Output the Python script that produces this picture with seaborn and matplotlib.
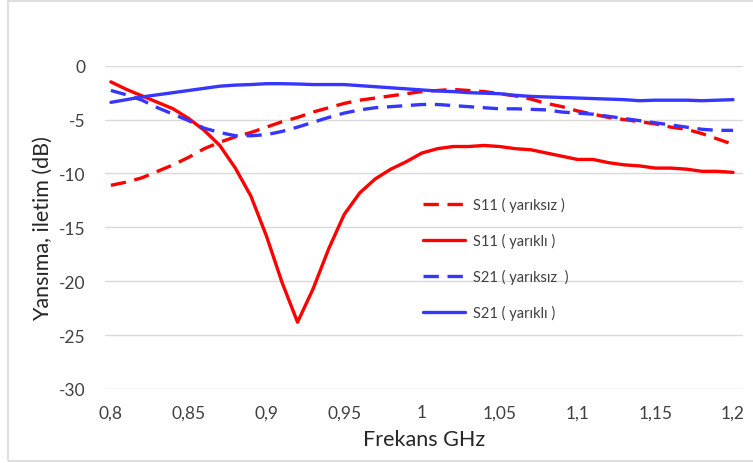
import numpy as np
import pandas as pd
import matplotlib
matplotlib.use("Agg")
import matplotlib.pyplot as plt
import seaborn as sns
from matplotlib.patches import Rectangle
from matplotlib.ticker import FuncFormatter

# Frekans noktalari (GHz)
freq = [0.80, 0.81, 0.82, 0.83, 0.84, 0.85, 0.86, 0.87, 0.88, 0.89,
        0.90, 0.91, 0.92, 0.93, 0.94, 0.95, 0.96, 0.97, 0.98, 0.99,
        1.00, 1.01, 1.02, 1.03, 1.04, 1.05, 1.06, 1.07, 1.08, 1.09,
        1.10, 1.11, 1.12, 1.13, 1.14, 1.15, 1.16, 1.17, 1.18, 1.19, 1.20]

s11_yariksiz = [-11.1, -10.8, -10.4, -9.8, -9.2, -8.5, -7.7, -7.1, -6.6, -6.2,
                -5.7, -5.2, -4.8, -4.3, -3.9, -3.5, -3.2, -3.0, -2.8, -2.6,
                -2.4, -2.3, -2.2, -2.3, -2.4, -2.6, -2.8, -3.1, -3.5, -3.8,
                -4.2, -4.5, -4.8, -5.0, -5.2, -5.4, -5.7, -5.9, -6.3, -6.8, -7.3]

s11_yarikli = [-1.5, -2.2, -2.8, -3.4, -4.0, -4.9, -6.0, -7.4, -9.5, -12.1,
               -15.8, -20.1, -23.8, -20.7, -17.0, -13.8, -11.8, -10.5, -9.6, -8.9,
               -8.1, -7.7, -7.5, -7.5, -7.4, -7.5, -7.7, -7.8, -8.1, -8.4,
               -8.7, -8.7, -9.0, -9.2, -9.3, -9.5, -9.5, -9.6, -9.8, -9.8, -9.9]

s21_yariksiz = [-2.3, -2.7, -3.2, -3.9, -4.5, -5.1, -5.8, -6.2, -6.5, -6.5,
                -6.4, -6.1, -5.7, -5.25, -4.8, -4.4, -4.1, -3.9, -3.8, -3.7,
                -3.6, -3.6, -3.7, -3.8, -3.9, -4.0, -4.0, -4.05, -4.1, -4.3,
                -4.4, -4.5, -4.7, -4.9, -5.1, -5.3, -5.5, -5.7, -5.9, -6.0, -6.0]

s21_yarikli = [-3.4, -3.15, -2.9, -2.7, -2.5, -2.3, -2.1, -1.9, -1.8, -1.75,
               -1.67, -1.67, -1.7, -1.75, -1.75, -1.75, -1.85, -1.95, -2.05, -2.15,
               -2.25, -2.35, -2.4, -2.5, -2.55, -2.6, -2.75, -2.85, -2.9, -2.95,
               -3.0, -3.05, -3.1, -3.15, -3.25, -3.2, -3.2, -3.2, -3.25, -3.2, -3.15]

labels = ["S11 ( yarıksız )", "S11 ( yarıklı )", "S21 ( yarıksız  )", "S21 ( yarıklı )"]
x_ticks = [0.8, 0.85, 0.9, 0.95, 1.0, 1.05, 1.1, 1.15, 1.2]
y_ticks = [0, -5, -10, -15, -20, -25, -30]

RED = "#ff0000"
BLUE = "#3636ff"
DASH = (0, (4.6, 2.6))

sns.set_theme(style="whitegrid")
plt.rcParams["font.family"] = ["Lato", "DejaVu Sans"]
plt.rcParams["axes.unicode_minus"] = False

fig = plt.figure(figsize=(7.53, 4.64), dpi=100)
ax = fig.add_axes([105 / 753, 1 - 390 / 464, 638 / 753, 323.3 / 464])

# Excel tarzı dış çerçeve
fig.patches.append(Rectangle((8 / 753, 2 / 464), 760 / 753, 460 / 464,
                             transform=fig.transFigure, fill=False,
                             edgecolor="#d9d9d9", lw=1.2))

series = [(s11_yariksiz, RED, DASH), (s11_yarikli, RED, "-"),
          (s21_yariksiz, BLUE, DASH), (s21_yarikli, BLUE, "-")]
for (vals, col, ls), lab in zip(series, labels):
    sns.lineplot(x=freq, y=vals, ax=ax, color=col, linestyle=ls, lw=2.4, label=lab)

ax.set_xlim(0.7962, 1.2064)
ax.set_ylim(-30, 0)
ax.set_xticks(x_ticks)
ax.set_yticks(y_ticks)
ax.xaxis.set_major_formatter(FuncFormatter(lambda v, p: f"{v:g}".replace(".", ",")))
ax.yaxis.set_major_formatter(FuncFormatter(lambda v, p: f"{v:g}"))
ax.grid(axis="y", color="#d9d9d9", lw=1)
ax.grid(axis="x", visible=False)
for sp in ax.spines.values():
    sp.set_visible(False)
ax.tick_params(axis="both", labelsize=12.5, colors="#404040", length=0)
ax.tick_params(axis="x", pad=11)
ax.tick_params(axis="y", pad=14)

ax.set_xlabel("Frekans GHz", fontsize=15.5, color="#262626", labelpad=6)
ax.set_ylabel("Yansıma, iletim (dB)", fontsize=15.5, color="#262626", labelpad=4)

leg = ax.legend(loc="center left", bbox_to_anchor=(0.498, 0.404), frameon=False,
                fontsize=10.5, labelspacing=1.45, handlelength=2.9,
                handletextpad=0.55, borderpad=0, borderaxespad=0)
for t in leg.get_texts():
    t.set_color("#404040")

plt.savefig("out.png", dpi=100)
plt.close()
